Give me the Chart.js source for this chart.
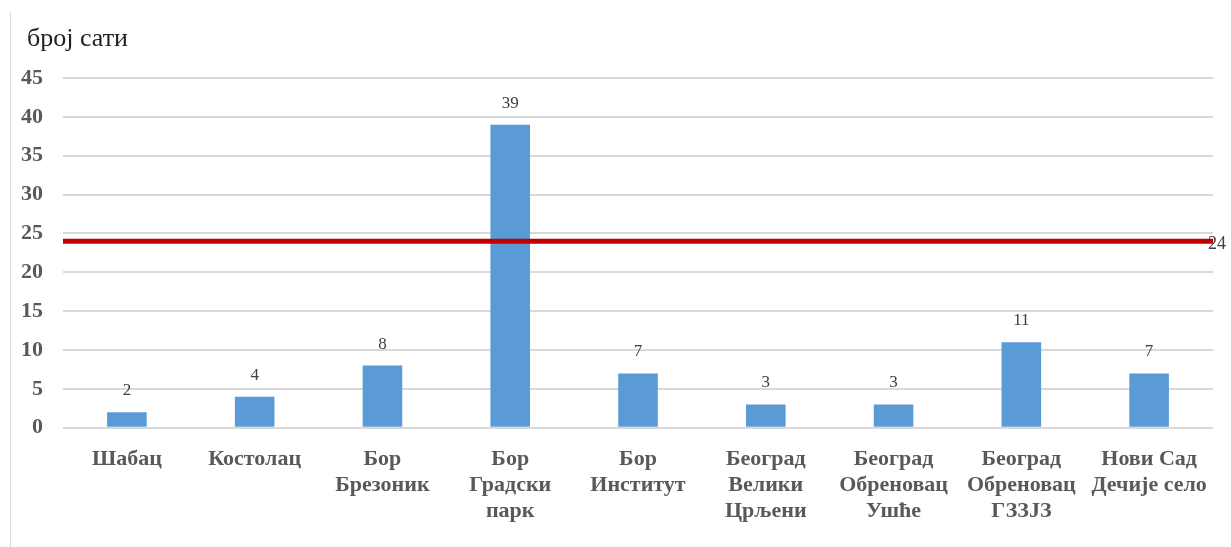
<!DOCTYPE html>
<html>
<head>
<meta charset="utf-8">
<script src="https://cdn.jsdelivr.net/npm/chart.js@4"></script>
<style>
    body { margin: 0; background: #fff; }
    #wrap { position: relative; width: 1231px; height: 547px; }
    #frame { position: absolute; left: 10px; top: 12px; bottom: 0; border-left: 1px solid #d9d9d9; }
</style>
</head>
<body>
<div id="wrap">
    <div id="frame"></div>
    <canvas id="statsChart" width="1231" height="547"></canvas>
</div>
<script>
const categories = [
    ["Шабац"],
    ["Костолац"],
    ["Бор", "Брезоник"],
    ["Бор", "Градски", "парк"],
    ["Бор", "Институт"],
    ["Београд", "Велики", "Црљени"],
    ["Београд", "Обреновац", "Ушће"],
    ["Београд", "Обреновац", "ГЗЗЈЗ"],
    ["Нови Сад", "Дечије село"]
];
const hours = [2, 4, 8, 39, 7, 3, 3, 11, 7];
const limitValue = 24;
const yTicks = [0, 5, 10, 15, 20, 25, 30, 35, 40, 45];
const axisTitle = "број сати";

// axis title, value labels above bars + label at the end of the red line
const labelPlugin = {
    id: "labelPlugin",
    afterDatasetsDraw(chart)
    {
        const ctx = chart.ctx;
        ctx.save();

        ctx.font = "26px 'Liberation Serif'";
        ctx.fillStyle = "#222";
        ctx.textAlign = "left";
        ctx.textBaseline = "alphabetic";
        ctx.fillText(axisTitle, 27, 46);

        ctx.font = "17px 'Liberation Serif'";
        ctx.fillStyle = "#404040";
        ctx.textAlign = "center";
        ctx.textBaseline = "bottom";

        chart.getDatasetMeta(0).data.forEach((bar, i) =>
        {
            ctx.fillText(String(hours[i]), bar.x, bar.y - 13);
        });

        const lineMeta = chart.getDatasetMeta(1).data;
        const last = lineMeta[lineMeta.length - 1];
        ctx.font = "18px 'Liberation Serif'";
        ctx.textAlign = "left";
        ctx.textBaseline = "middle";
        ctx.fillText(String(limitValue), last.x - 5, last.y + 3);
        ctx.restore();
    }
};

new Chart(document.getElementById("statsChart"), {
    data: {
        labels: categories,
        datasets: [
            {
                type: "bar",
                data: hours,
                backgroundColor: "#5B9BD5",
                grouped: false,
                categoryPercentage: 1,
                barPercentage: 0.31,
                order: 2
            },
            {
                type: "line",
                data: [{ x: 0, y: limitValue }, { x: 1, y: limitValue }],
                xAxisID: "x2",
                borderColor: "#C00000",
                borderWidth: 5,
                pointRadius: 0,
                order: 1
            }
        ]
    },
    options: {
        responsive: false,
        animation: false,
        layout: { padding: { left: 1, right: 18, top: 78, bottom: 12 } },
        plugins: {
            legend: { display: false },
            tooltip: { enabled: false },
            title: { display: false }
        },
        scales: {
            x: {
                grid: { display: false },
                border: { display: false },
                ticks: {
                    color: "#595959",
                    font: { family: "'Liberation Serif'", size: 22, weight: "bold" },
                    maxRotation: 0,
                    autoSkip: false,
                    padding: 10
                }
            },
            x2: {
                type: "linear",
                display: false,
                min: 0,
                max: 1
            },
            y: {
                min: 0,
                max: 45,
                afterBuildTicks: axis => { axis.ticks = yTicks.map(v => ({ value: v })); },
                grid: { color: "#d9d9d9", lineWidth: 2, drawTicks: false },
                border: { display: false },
                ticks: {
                    color: "#595959",
                    font: { family: "'Liberation Serif'", size: 22, weight: "bold" },
                    padding: 20
                }
            }
        }
    },
    plugins: [labelPlugin]
});
</script>
</body>
</html>
